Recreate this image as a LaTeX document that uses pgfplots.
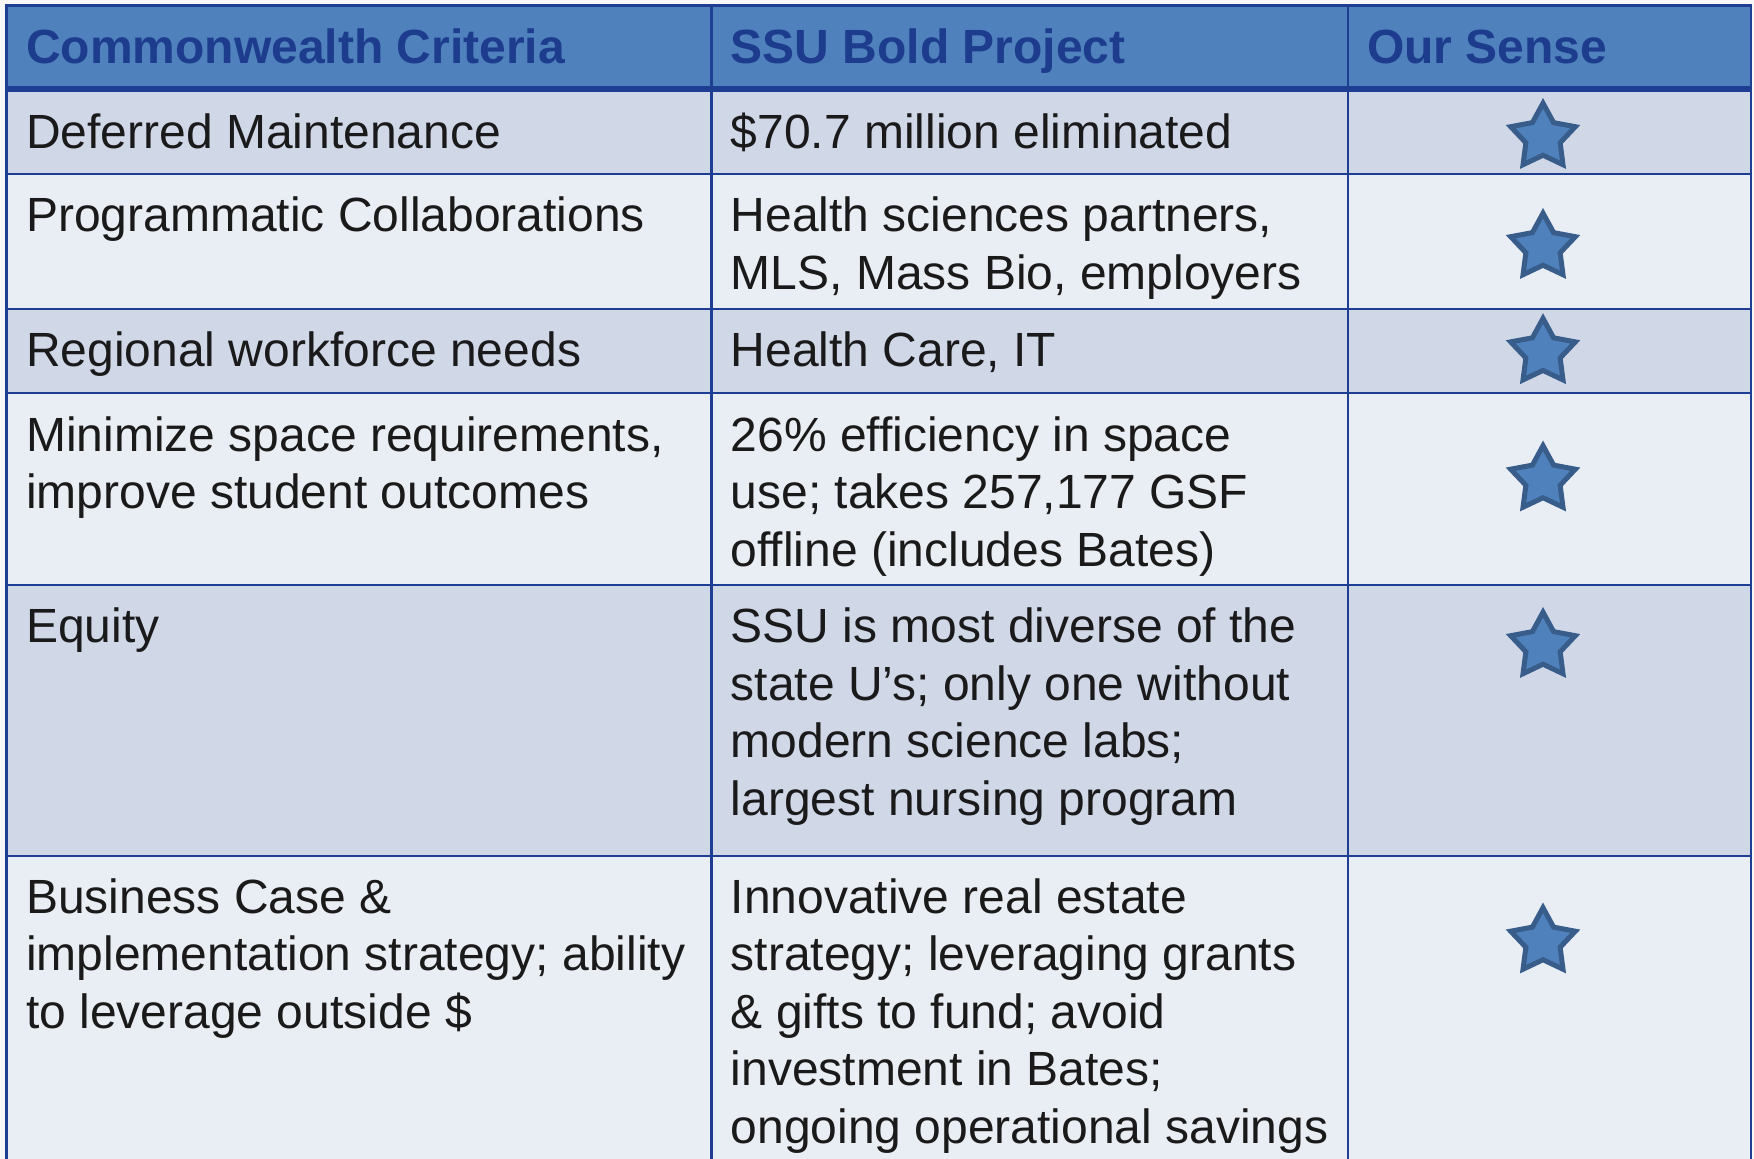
\documentclass[border=0pt]{standalone}
\usepackage{fontspec}
\setmainfont{Liberation Sans}
\usepackage{pgfplots}
\pgfplotsset{compat=1.18}
\definecolor{bg}{HTML}{F7F7F7}
\definecolor{hdr}{HTML}{4F81BD}
\definecolor{hdrtxt}{HTML}{1E3C8E}
\definecolor{gridc}{HTML}{1D3E93}
\definecolor{rowA}{HTML}{D0D8E8}
\definecolor{rowB}{HTML}{E9EDF4}
\definecolor{txt}{HTML}{1A1A1A}
\definecolor{starfill}{HTML}{4F81BD}
\definecolor{starline}{HTML}{385D8A}
\pgfdeclareplotmark{fstar}{%
  \pgfpathmoveto{\pgfpointpolar{90}{\pgfplotmarksize}}%
  \pgfpathlineto{\pgfpointpolar{126}{0.53\pgfplotmarksize}}%
  \pgfpathlineto{\pgfpointpolar{162}{\pgfplotmarksize}}%
  \pgfpathlineto{\pgfpointpolar{198}{0.53\pgfplotmarksize}}%
  \pgfpathlineto{\pgfpointpolar{234}{\pgfplotmarksize}}%
  \pgfpathlineto{\pgfpointpolar{270}{0.53\pgfplotmarksize}}%
  \pgfpathlineto{\pgfpointpolar{306}{\pgfplotmarksize}}%
  \pgfpathlineto{\pgfpointpolar{342}{0.53\pgfplotmarksize}}%
  \pgfpathlineto{\pgfpointpolar{18}{\pgfplotmarksize}}%
  \pgfpathlineto{\pgfpointpolar{54}{0.53\pgfplotmarksize}}%
  \pgfpathclose
  \pgfusepathqfillstroke}
\newcommand{\cell}[3]{\node[inner sep=0pt,anchor=base west,text=txt,font=\fontsize{48pt}{57.5pt}\selectfont] at (axis cs:#1,#2) {#3};}
\newcommand{\hcell}[3]{\node[inner sep=0pt,anchor=base west,text=hdrtxt,font=\fontsize{48pt}{57.5pt}\selectfont\bfseries] at (axis cs:#1,#2) {#3};}
\newcommand{\rowline}[1]{\draw[gridc,line width=2.5pt] (axis cs:6.7,#1) -- (axis cs:1751,#1);}
\begin{document}
\begin{tikzpicture}
\useasboundingbox (0,0) rectangle (1754pt,1159pt);
\begin{axis}[at={(0,0)},anchor=south west,scale only axis,width=1754pt,height=1159pt,
  xmin=0,xmax=1754,ymin=0,ymax=1159,y dir=reverse,hide axis,clip=true]
% background
\fill[bg] (axis cs:0,0) rectangle (axis cs:1754,1159);
% header and rows
\fill[hdr] (axis cs:6.7,5.6) rectangle (axis cs:1751,89);
\fill[rowA] (axis cs:6.7,89) rectangle (axis cs:1751,173.8);
\fill[rowB] (axis cs:6.7,173.8) rectangle (axis cs:1751,309);
\fill[rowA] (axis cs:6.7,309) rectangle (axis cs:1751,393);
\fill[rowB] (axis cs:6.7,393) rectangle (axis cs:1751,585);
\fill[rowA] (axis cs:6.7,585) rectangle (axis cs:1751,856);
\fill[rowB] (axis cs:6.7,856) rectangle (axis cs:1751,1200);
% grid lines
\draw[gridc,line width=2.5pt] (axis cs:6.7,1200) -- (axis cs:6.7,5.6) -- (axis cs:1751,5.6) -- (axis cs:1751,1200);
\draw[gridc,line width=2.5pt] (axis cs:711.5,5.6) -- (axis cs:711.5,1200);
\draw[gridc,line width=2.5pt] (axis cs:1348,5.6) -- (axis cs:1348,1200);
\rowline{173.8}
\rowline{309}
\rowline{393}
\rowline{585}
\rowline{856}
\draw[gridc,line width=6pt] (axis cs:6.7,89) -- (axis cs:1751,89);
% header
\hcell{26}{63}{Commonwealth Criteria}
\hcell{730.5}{63}{SSU Bold Project}
\hcell{1367}{63}{Our Sense}
% row 1
\cell{26}{148}{Deferred Maintenance}
\cell{730.5}{148}{\$70.7 million eliminated}
% row 2
\cell{26}{231.5}{Programmatic Collaborations}
\cell{730.5}{231.5}{Health sciences partners,}
\cell{730.5}{289}{MLS, Mass Bio, employers}
% row 3
\cell{26}{366}{Regional workforce needs}
\cell{730.5}{366}{Health Care, IT}
% row 4
\cell{26}{451}{Minimize space requirements,}
\cell{26}{508.5}{improve student outcomes}
\cell{730.5}{451}{26\% efficiency in space}
\cell{730.5}{508.5}{use; takes 257,177 GSF}
\cell{730.5}{566}{offline (includes Bates)}
% row 5
\cell{26}{642.5}{Equity}
\cell{730.5}{642.5}{SSU is most diverse of the}
\cell{730.5}{700}{state U’s; only one without}
\cell{730.5}{757.5}{modern science labs;}
\cell{730.5}{815}{largest nursing program}
% row 6
\cell{26}{913}{Business Case \&}
\cell{26}{970.5}{implementation strategy; ability}
\cell{26}{1028}{to leverage outside \$}
\cell{730.5}{913}{Innovative real estate}
\cell{730.5}{970.5}{strategy; leveraging grants}
\cell{730.5}{1028}{\& gifts to fund; avoid}
\cell{730.5}{1085.5}{investment in Bates;}
\cell{730.5}{1143}{ongoing operational savings}
% stars
\addplot[only marks,mark=fstar,mark size=34pt,
  mark options={fill=starfill,draw=starline,line width=5pt,miter limit=10}]
  coordinates {(1543,137.2) (1543,247.2) (1543,352.4) (1543,479.7) (1543,646.2) (1543,941.7)};
\end{axis}
\end{tikzpicture}
\end{document}
